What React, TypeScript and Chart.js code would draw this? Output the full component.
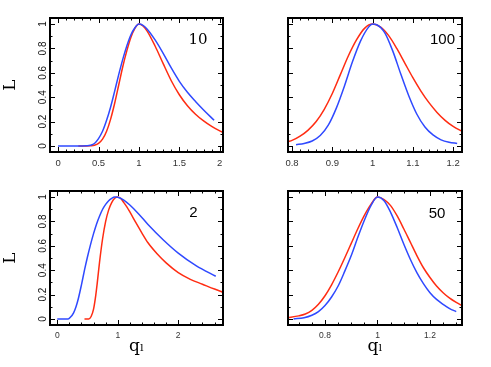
import React, { useEffect, useRef } from "react";
import { Chart, registerables } from "chart.js";
Chart.register(...registerables);

const BLUE = "#2f49ff";
const RED = "#ff2c12";

// ---- Panel "10" ----
const p10BlueX = [0, 0.1, 0.2, 0.3, 0.35, 0.4, 0.45, 0.5, 0.55, 0.6, 0.65, 0.7, 0.75, 0.8, 0.85, 0.9, 0.95, 1.0, 1.05, 1.1, 1.2, 1.3, 1.4, 1.5, 1.6, 1.7, 1.8, 1.93];
const p10BlueY = [0, 0, 0, 0, 0.001, 0.005, 0.02, 0.06, 0.12, 0.21, 0.32, 0.45, 0.585, 0.71, 0.82, 0.91, 0.97, 1.0, 0.99, 0.96, 0.87, 0.76, 0.64, 0.53, 0.44, 0.365, 0.295, 0.21];
const p10RedX = [0.25, 0.35, 0.4, 0.45, 0.5, 0.55, 0.6, 0.65, 0.7, 0.75, 0.8, 0.85, 0.9, 0.95, 1.0, 1.05, 1.1, 1.2, 1.3, 1.4, 1.5, 1.6, 1.7, 1.8, 1.9, 2.05];
const p10RedY = [0, 0, 0.001, 0.005, 0.02, 0.055, 0.12, 0.22, 0.35, 0.5, 0.65, 0.78, 0.89, 0.965, 1.0, 0.985, 0.945, 0.82, 0.675, 0.535, 0.42, 0.33, 0.26, 0.205, 0.16, 0.105];
const p10XTicks = [0, 0.5, 1, 1.5, 2];
const p10XLabels = ["0", "0.5", "1", "1.5", "2"];

// ---- Panel "100" ----
const p100BlueX = [0.81, 0.83, 0.85, 0.87, 0.89, 0.91, 0.93, 0.95, 0.97, 0.99, 1.0, 1.01, 1.03, 1.05, 1.07, 1.09, 1.11, 1.13, 1.15, 1.17, 1.19, 1.21];
const p100BlueY = [0.01, 0.02, 0.04, 0.085, 0.17, 0.31, 0.49, 0.69, 0.86, 0.975, 1.0, 0.995, 0.93, 0.78, 0.59, 0.41, 0.26, 0.155, 0.09, 0.05, 0.03, 0.02];
const p100RedX = [0.79, 0.8, 0.82, 0.84, 0.86, 0.88, 0.9, 0.92, 0.94, 0.96, 0.98, 1.0, 1.02, 1.04, 1.06, 1.08, 1.1, 1.12, 1.14, 1.16, 1.18, 1.2, 1.225];
const p100RedY = [0.035, 0.045, 0.08, 0.13, 0.2, 0.3, 0.43, 0.585, 0.74, 0.87, 0.965, 1.0, 0.975, 0.905, 0.8, 0.68, 0.56, 0.45, 0.355, 0.275, 0.21, 0.16, 0.115];
const p100XTicks = [0.8, 0.9, 1, 1.1, 1.2];
const p100XLabels = ["0.8", "0.9", "1", "1.1", "1.2"];

// ---- Panel "2" ----
const p2BlueX = [0, 0.1, 0.18, 0.22, 0.27, 0.31, 0.35, 0.4, 0.45, 0.5, 0.55, 0.6, 0.65, 0.7, 0.75, 0.8, 0.85, 0.9, 0.95, 1.0, 1.1, 1.2, 1.35, 1.5, 1.75, 2.0, 2.3, 2.62];
const p2BlueY = [0, 0, 0, 0.015, 0.05, 0.1, 0.17, 0.28, 0.4, 0.51, 0.61, 0.7, 0.78, 0.845, 0.9, 0.94, 0.97, 0.99, 1.0, 0.998, 0.975, 0.935, 0.86, 0.775, 0.65, 0.54, 0.435, 0.35];
const p2RedX = [0.45, 0.52, 0.56, 0.6, 0.63, 0.66, 0.7, 0.75, 0.8, 0.85, 0.9, 0.95, 1.0, 1.05, 1.1, 1.15, 1.2, 1.3, 1.4, 1.5, 1.65, 1.8, 2.0, 2.2, 2.4, 2.6, 2.76];
const p2RedY = [0, 0, 0.02, 0.08, 0.17, 0.29, 0.47, 0.66, 0.8, 0.895, 0.955, 0.99, 1.0, 0.988, 0.955, 0.92, 0.878, 0.79, 0.705, 0.625, 0.535, 0.46, 0.38, 0.325, 0.285, 0.245, 0.215];
const p2XTicks = [0, 1, 2];
const p2XLabels = ["0", "1", "2"];

// ---- Panel "50" ----
const p50BlueX = [0.68, 0.72, 0.75, 0.775, 0.8, 0.825, 0.85, 0.875, 0.9, 0.925, 0.95, 0.975, 1.0, 1.025, 1.05, 1.075, 1.1, 1.125, 1.15, 1.175, 1.2, 1.225, 1.25, 1.275, 1.3];
const p50BlueY = [0.0, 0.01, 0.03, 0.06, 0.11, 0.18, 0.27, 0.39, 0.52, 0.67, 0.81, 0.93, 1.0, 0.97, 0.875, 0.75, 0.615, 0.49, 0.38, 0.29, 0.215, 0.16, 0.12, 0.085, 0.06];
const p50RedX = [0.655, 0.7, 0.725, 0.75, 0.775, 0.8, 0.825, 0.85, 0.875, 0.9, 0.925, 0.95, 0.975, 1.0, 1.025, 1.05, 1.075, 1.1, 1.125, 1.15, 1.175, 1.2, 1.225, 1.25, 1.275, 1.3, 1.325];
const p50RedY = [0.01, 0.025, 0.04, 0.07, 0.12, 0.19, 0.28, 0.385, 0.5, 0.62, 0.74, 0.85, 0.94, 1.0, 0.98, 0.93, 0.845, 0.74, 0.63, 0.52, 0.42, 0.34, 0.27, 0.215, 0.17, 0.135, 0.105];
const p50XTicks = [0.8, 1, 1.2];
const p50XLabels = ["0.8", "1", "1.2"];

// ---- shared y axis ----
const yTicks = [0, 0.2, 0.4, 0.6, 0.8, 1];
const yLabels = ["0", "0.2", "0.4", "0.6", "0.8", "1"];

type PanelDef = {
  left: number; top: number; w: number; h: number;
  cl: number; ct: number; cr: number; cb: number;
  xMin: number; xMax: number; xTicks: number[]; xLabels: string[]; xMinor: number;
  xFont: number;
  showY: boolean; showXTitle: boolean;
  label: string; labelFont: string; labelDx: number; labelDy: number;
  bx: number[]; by: number[]; rx: number[]; ry: number[];
};

const panels: PanelDef[] = [
  { left: 0, top: 0, w: 245, h: 180, cl: 50, ct: 18, cr: 223, cb: 152,
    xMin: -0.1, xMax: 2.04, xTicks: p10XTicks, xLabels: p10XLabels, xMinor: 0.1, xFont: 9.5,
    showY: true, showXTitle: false,
    label: "10", labelFont: "15px 'DejaVu Serif'", labelDx: 25, labelDy: 22,
    bx: p10BlueX, by: p10BlueY, rx: p10RedX, ry: p10RedY },
  { left: 245, top: 0, w: 246, h: 180, cl: 43, ct: 18, cr: 217, cb: 152,
    xMin: 0.79, xMax: 1.222, xTicks: p100XTicks, xLabels: p100XLabels, xMinor: 0.02, xFont: 9.5,
    showY: false, showXTitle: false,
    label: "100", labelFont: "15px 'Liberation Sans'", labelDx: 19.5, labelDy: 21.5,
    bx: p100BlueX, by: p100BlueY, rx: p100RedX, ry: p100RedY },
  { left: 0, top: 180, w: 245, h: 187, cl: 50, ct: 11, cr: 223, cb: 145,
    xMin: -0.12, xMax: 2.74, xTicks: p2XTicks, xLabels: p2XLabels, xMinor: 0.2, xFont: 8.5,
    showY: true, showXTitle: true,
    label: "2", labelFont: "15px 'Liberation Sans'", labelDx: 29.5, labelDy: 22,
    bx: p2BlueX, by: p2BlueY, rx: p2RedX, ry: p2RedY },
  { left: 245, top: 180, w: 246, h: 187, cl: 43, ct: 11, cr: 217, cb: 145,
    xMin: 0.659, xMax: 1.322, xTicks: p50XTicks, xLabels: p50XLabels, xMinor: 0.05, xFont: 8.5,
    showY: false, showXTitle: true,
    label: "50", labelFont: "15px 'Liberation Sans'", labelDx: 25, labelDy: 22.5,
    bx: p50BlueX, by: p50BlueY, rx: p50RedX, ry: p50RedY },
];

const framePlugin = {
  id: "frameTicks",
  afterDatasetsDraw(chart: any, _args: any, opts: any) {
    const { ctx, chartArea: a, scales } = chart;
    const x = scales.x;
    const y = scales.y;
    ctx.save();
    ctx.strokeStyle = "#000";
    ctx.lineWidth = 1;
    ctx.beginPath();
    const xTick = (v: number, len: number) => {
      const px = Math.round(x.getPixelForValue(v)) + 0.5;
      ctx.moveTo(px, a.bottom); ctx.lineTo(px, a.bottom - len);
      ctx.moveTo(px, a.top); ctx.lineTo(px, a.top + len);
    };
    const yTick = (v: number, len: number) => {
      const py = Math.round(y.getPixelForValue(v)) + 0.5;
      ctx.moveTo(a.left, py); ctx.lineTo(a.left + len, py);
      ctx.moveTo(a.right, py); ctx.lineTo(a.right - len, py);
    };
    const step = opts.xMinor;
    for (let i = Math.ceil(x.min / step - 1e-6); i * step <= x.max + 1e-9; i++) {
      xTick(i * step, 2.5);
    }
    opts.xTicks.forEach((v: number) => xTick(v, 5));
    for (let i = 0; i <= 10; i++) yTick(i / 10, 2.5);
    opts.yTicks.forEach((v: number) => yTick(v, 5));
    ctx.stroke();
    ctx.lineWidth = 2;
    ctx.strokeRect(a.left, a.top, a.right - a.left, a.bottom - a.top);
    ctx.fillStyle = "#000";
    ctx.font = opts.labelFont;
    ctx.textAlign = "center";
    ctx.textBaseline = "middle";
    ctx.fillText(opts.label, a.right - opts.labelDx, a.top + opts.labelDy);
    ctx.restore();
  },
};

function Panel({ p }: { p: PanelDef }) {
  const ref = useRef<HTMLCanvasElement | null>(null);
  useEffect(() => {
    const canvas = ref.current;
    if (!canvas) return;
    const chart = new Chart(canvas, {
      type: "line",
      data: {
        datasets: [
          {
            data: p.bx.map((v, i) => ({ x: v, y: p.by[i] })),
            borderColor: BLUE, borderWidth: 1.5, pointRadius: 0,
            cubicInterpolationMode: "monotone", fill: false,
          },
          {
            data: p.rx.map((v, i) => ({ x: v, y: p.ry[i] })),
            borderColor: RED, borderWidth: 1.5, pointRadius: 0,
            cubicInterpolationMode: "monotone", fill: false,
          },
        ],
      },
      options: {
        responsive: false,
        animation: false,
        events: [],
        layout: { padding: { left: 0, right: p.w - p.cr, top: p.ct, bottom: 0 } },
        plugins: {
          legend: { display: false },
          tooltip: { enabled: false },
          frameTicks: {
            xMinor: p.xMinor, xTicks: p.xTicks, yTicks,
            label: p.label, labelFont: p.labelFont, labelDx: p.labelDx, labelDy: p.labelDy,
          },
        } as any,
        scales: {
          x: {
            type: "linear",
            min: p.xMin,
            max: p.xMax,
            grid: { display: false, drawTicks: false, tickLength: 0 },
            border: { display: false },
            afterBuildTicks: (s: any) => { s.ticks = p.xTicks.map((v) => ({ value: v })); },
            afterFit: (s: any) => { s.height = p.h - p.cb; },
            ticks: {
              autoSkip: false, minRotation: 0, maxRotation: 0, padding: 6,
              color: "#333",
              font: { family: "'Liberation Sans', Arial, sans-serif", size: p.xFont },
              callback: (_v: any, i: number) => p.xLabels[i],
            },
            title: {
              display: p.showXTitle,
              text: "qₗ",
              color: "#000",
              font: { family: "'DejaVu Serif', serif", size: 17 },
              padding: { top: 0, bottom: 10 },
            },
          },
          y: {
            type: "linear",
            min: -0.05,
            max: 1.05,
            grid: { display: false, drawTicks: false, tickLength: 0 },
            border: { display: false },
            afterBuildTicks: (s: any) => { s.ticks = yTicks.map((v) => ({ value: v })); },
            afterFit: (s: any) => { s.width = p.cl; },
            ticks: {
              display: p.showY,
              autoSkip: false, minRotation: 90, maxRotation: 90, padding: 0,
              crossAlign: "center",
              color: "#111",
              font: { family: "'Liberation Sans', Arial, sans-serif", size: 10 },
              callback: (_v: any, i: number) => yLabels[i],
            },
            title: {
              display: p.showY,
              text: "L",
              color: "#000",
              font: { family: "'DejaVu Serif', serif", size: 17 },
              padding: 0,
            },
          },
        },
      } as any,
      plugins: [framePlugin],
    });
    return () => chart.destroy();
  }, [p]);
  return (
    <canvas
      ref={ref}
      width={p.w}
      height={p.h}
      style={{ position: "absolute", left: p.left, top: p.top, width: p.w, height: p.h, display: "block" }}
    />
  );
}

export default function App() {
  return (
    <div style={{ position: "fixed", left: 0, top: 0, width: 491, height: 367, background: "#fff" }}>
      {panels.map((p, i) => (
        <Panel key={i} p={p} />
      ))}
    </div>
  );
}
